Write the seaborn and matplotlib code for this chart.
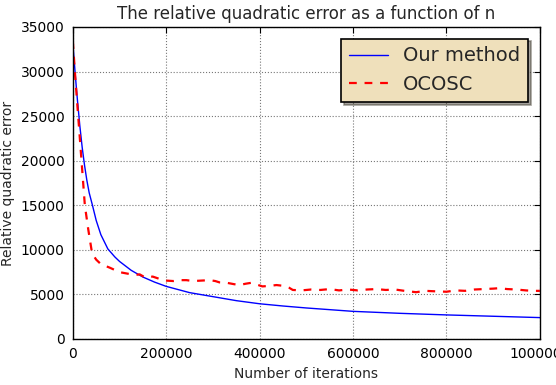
import numpy as np
import pandas as pd
import seaborn as sns
import matplotlib
matplotlib.use("Agg")
import matplotlib.pyplot as plt

# values
n_ours = [0, 2500, 5000, 7500, 10000, 15000, 20000, 25000, 30000, 35000, 42000,
          50000, 60000, 75000, 90000, 100000, 125000, 150000, 175000, 200000,
          250000, 300000, 350000, 400000, 450000, 500000, 600000, 700000,
          800000, 900000, 1000000]
err_ours = [33200, 31500, 29800, 28200, 26700, 23900, 21500, 19500, 17800, 16400, 15000,
            13300, 11700, 10100, 9200, 8700, 7700, 6950, 6380, 5900,
            5200, 4750, 4300, 3950, 3700, 3480, 3100, 2880,
            2700, 2550, 2400]

n_ocosc = [0, 5000, 10000, 18600, 25700, 33000, 40000, 45000, 50000, 60000, 79000,
           100000, 120000, 136000, 143000, 155000, 171000, 185000, 200000, 215000,
           230000, 243000, 258000, 275000, 293000, 305000, 314000, 330000, 345000,
           357000, 370000, 382000, 394000, 406000, 420000, 436000, 453000, 463000,
           471000, 490000, 510000, 530000, 550000, 570000, 590000, 610000, 630000,
           650000, 670000, 690000, 710000, 735000, 755000, 775000, 800000, 820000,
           840000, 860000, 880000, 900000, 913000, 930000, 950000, 970000, 985000,
           1000000]
err_ocosc = [33400, 29500, 26000, 20000, 15000, 12300, 10000, 9300, 8900, 8400, 8000,
             7500, 7300, 7200, 7250, 6900, 7000, 6750, 6550, 6500,
             6600, 6600, 6500, 6550, 6600, 6500, 6350, 6300, 6150,
             6050, 6200, 6300, 6100, 5900, 5950, 6050, 5950, 5750,
             5500, 5450, 5550, 5500, 5600, 5450, 5550, 5450, 5550,
             5600, 5500, 5550, 5400, 5250, 5400, 5350, 5300, 5450,
             5400, 5550, 5600, 5650, 5700, 5600, 5550, 5450, 5400,
             5400]

x_ticks = [0, 200000, 400000, 600000, 800000, 1000000]
y_ticks = [0, 5000, 10000, 15000, 20000, 25000, 30000, 35000]

sns.set_style("white", {"xtick.direction": "in", "ytick.direction": "in"})
plt.rcParams["font.family"] = ["DejaVu Sans"]

df_ours = pd.DataFrame({"n": n_ours, "err": err_ours})
df_ocosc = pd.DataFrame({"n": n_ocosc, "err": err_ocosc})

fig = plt.figure(figsize=(5.56, 3.85), dpi=100)
ax = fig.add_axes([0.131, 0.1195, 0.84, 0.8105])

sns.lineplot(data=df_ours, x="n", y="err", color="blue", lw=1.0,
             label="Our method", ax=ax)
sns.lineplot(data=df_ocosc, x="n", y="err", color="red", lw=1.6,
             linestyle=(0, (3.5, 3.5)), label="OCOSC", ax=ax)

ax.set_xlim(0, 1000000)
ax.set_ylim(0, 35000)
ax.set_xticks(x_ticks)
ax.set_yticks(y_ticks)
ax.set_xticklabels([str(t) for t in x_ticks], fontsize=10)
ax.set_yticklabels([str(t) for t in y_ticks], fontsize=10)
ax.tick_params(direction="in", length=4, width=0.8, top=True, right=True,
               colors="black", pad=6)
ax.grid(True, color="#777777", linestyle=":", linewidth=0.8)
for s in ax.spines.values():
    s.set_color("black")
    s.set_linewidth(1.0)

ax.set_title("The relative quadratic error as a function of n", fontsize=12, pad=6)
ax.set_xlabel("Number of iterations", fontsize=10)
ax.set_ylabel("Relative quadratic error", fontsize=10)

leg = ax.legend(loc="upper right", fontsize=14, fancybox=False, shadow=True,
                frameon=True, handlelength=2.0, borderaxespad=0.6)
leg.get_frame().set_facecolor("#efe0bb")
leg.get_frame().set_edgecolor("black")
leg.get_frame().set_linewidth(1.2)
leg.get_frame().set_alpha(1.0)

fig.savefig("out.png", dpi=100)
